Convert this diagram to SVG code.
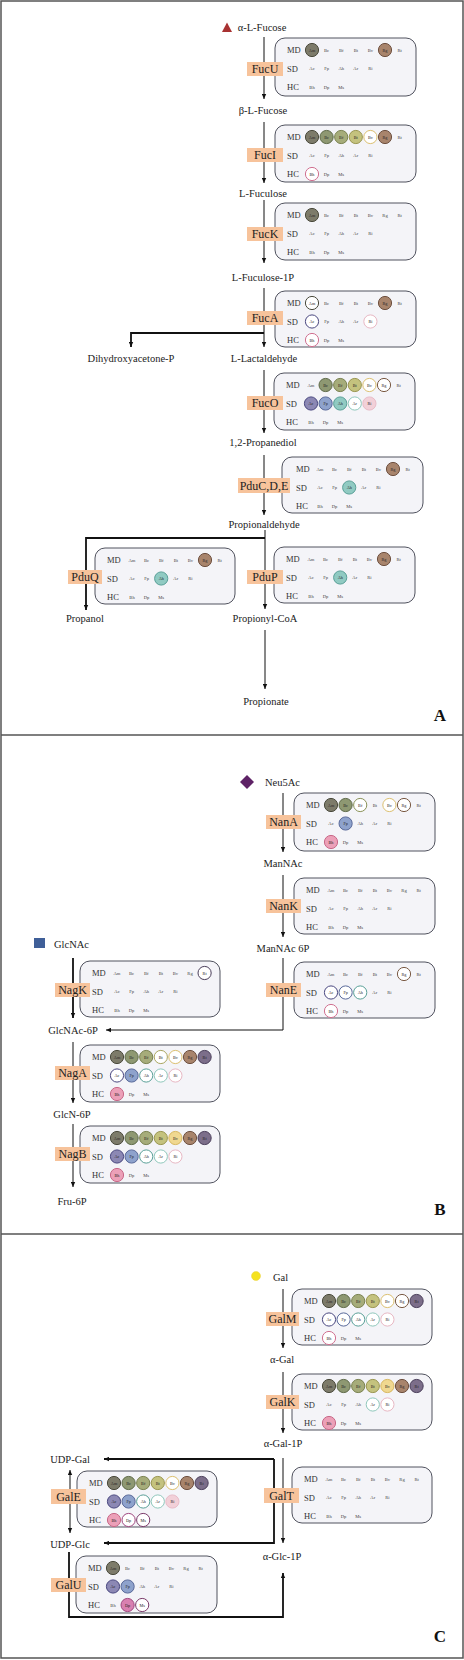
<svg xmlns="http://www.w3.org/2000/svg" width="464" height="1660" viewBox="0 0 464 1660">
<style>
.bg{fill:#fff}
.frame{fill:none;stroke:#555;stroke-width:1.5}
.box{fill:#f4f4f8;stroke:#50525e;stroke-width:1}
.lab{fill:#f7c39b}
.lt{font-family:"Liberation Serif",serif;font-size:12px;fill:#222;text-anchor:middle;dominant-baseline:central}
.met{font-family:"Liberation Serif",serif;font-size:10.5px;fill:#222;text-anchor:middle;dominant-baseline:central}
.mets{font-family:"Liberation Serif",serif;font-size:10.5px;fill:#222;dominant-baseline:central}
.rl{font-family:"Liberation Serif",serif;font-size:8.5px;fill:#333;dominant-baseline:central}
.sp{font-family:"Liberation Serif",serif;font-size:4.6px;fill:#444;text-anchor:middle;dominant-baseline:central}
.ci{font-family:"Liberation Serif",serif;font-size:4.2px;fill:#222;text-anchor:middle;dominant-baseline:central}
.pl{font-family:"Liberation Serif",serif;font-size:17px;font-weight:bold;fill:#111;text-anchor:middle;dominant-baseline:central}
.ln{fill:none;stroke:#111;stroke-width:1}
.tk{stroke-width:1.8}
.m0{fill:#7d7b6a;stroke:#4a4a3c}.m1{fill:#8e9872;stroke:#5e6a48}.m2{fill:#a6ac7a;stroke:#7a8250}.m3{fill:#c4c27e;stroke:#9a9650}.m4{fill:#f0d890;stroke:#d8b860}.m5{fill:#a8846c;stroke:#6e5040}.m6{fill:#7c6e8a;stroke:#4a3e5a}
.om0{fill:#fff;stroke:#4a4a3c}.om1{fill:#fff;stroke:#6e7a50}.om2{fill:#fff;stroke:#8a9258}.om3{fill:#fff;stroke:#aaa660}.om4{fill:#fff;stroke:#dcc070}.om5{fill:#fff;stroke:#7a5a44}.om6{fill:#fff;stroke:#4a3e5a}
.s0{fill:#8c88b4;stroke:#4a4880}.s1{fill:#8ea2cc;stroke:#5a6a9a}.s2{fill:#90cac2;stroke:#5aa098}.s3{fill:#b0dcd4;stroke:#80c0b4}.s4{fill:#f2d0d8;stroke:#e8bcc8}
.os0{fill:#fff;stroke:#4a4880}.os1{fill:#fff;stroke:#5a6a9a}.os2{fill:#fff;stroke:#5aa098}.os3{fill:#fff;stroke:#90c8bc}.os4{fill:#fff;stroke:#e8b8c4}
.h0{fill:#eca0b8;stroke:#c86888}.h1{fill:#d880b0;stroke:#a04880}.h2{fill:#a86898;stroke:#7a3a6a}
.oh0{fill:#fff;stroke:#d07090}.oh1{fill:#fff;stroke:#a04880}.oh2{fill:#fff;stroke:#7a3a6a}
</style>
<defs>
<marker id="ah" viewBox="0 0 8 8" refX="8" refY="4" markerWidth="5" markerHeight="5" markerUnits="userSpaceOnUse" orient="auto-start-reverse"><path d="M0,0.5 L8,4 L0,7.5 z" fill="#111"/></marker>
</defs>
<rect class="bg" x="0" y="0" width="464" height="1660"/>
<g id="frame">
<rect class="frame" x="1" y="1" width="462" height="1657"/>
<line class="frame" x1="1" y1="735" x2="463" y2="735"/>
<line class="frame" x1="1" y1="1234" x2="463" y2="1234"/>
</g>

<g id="connectors">
<path class="ln" d="M264,37 V99" marker-end="url(#ah)"/>
<path class="ln" d="M264,122 V183" marker-end="url(#ah)"/>
<path class="ln" d="M264,200 V263" marker-end="url(#ah)"/>
<path class="ln" d="M264,288 V347" marker-end="url(#ah)"/>
<path class="ln tk" d="M264,333 H131 V347" marker-end="url(#ah)"/>
<path class="ln" d="M264,370 V433" marker-end="url(#ah)"/>
<path class="ln" d="M264,455 V515" marker-end="url(#ah)"/>
<path class="ln" d="M265,530 V609" marker-end="url(#ah)"/>
<path class="ln tk" d="M265,538 H86 V610" marker-end="url(#ah)"/>
<path class="ln" d="M265,630 V689" marker-end="url(#ah)"/>
<path class="ln" d="M283,793 V852" marker-end="url(#ah)"/>
<path class="ln" d="M283,875 V937" marker-end="url(#ah)"/>
<path class="ln" d="M283,958 V1030 H106" marker-end="url(#ah)"/>
<path class="ln tk" d="M73,958 V1018" marker-end="url(#ah)"/>
<path class="ln" d="M73,1042 V1103" marker-end="url(#ah)"/>
<path class="ln" d="M73,1124 V1187" marker-end="url(#ah)"/>
<path class="ln" d="M283,1289 V1348" marker-end="url(#ah)"/>
<path class="ln" d="M283,1372 V1433" marker-end="url(#ah)"/>
<path class="ln" d="M283,1458 V1543" marker-end="url(#ah)"/>
<path class="ln tk" d="M274,1459 H104" marker-end="url(#ah)"/>
<path class="ln tk" d="M274,1459 V1543 H104" marker-end="url(#ah)"/>
<path class="ln" d="M70,1470 V1533" marker-start="url(#ah)" marker-end="url(#ah)"/>
<path class="ln tk" d="M69,1552 V1617 H283 V1573" marker-end="url(#ah)"/>
</g>

<g id="metabolites">
<polygon points="222,32 232,32 227,22.5" fill="#a83232"/>
<text class="met" x="262" y="27">α-L-Fucose</text>
<text class="met" x="263" y="110">β-L-Fucose</text>
<text class="met" x="263" y="193">L-Fuculose</text>
<text class="met" x="263" y="277">L-Fuculose-1P</text>
<text class="met" x="131" y="358">Dihydroxyacetone-P</text>
<text class="met" x="264" y="358">L-Lactaldehyde</text>
<text class="met" x="263" y="442">1,2-Propanediol</text>
<text class="met" x="264" y="524">Propionaldehyde</text>
<text class="met" x="85" y="618">Propanol</text>
<text class="met" x="265" y="618">Propionyl-CoA</text>
<text class="met" x="266" y="701">Propionate</text>
<polygon points="247,775 254,782 247,789 240,782" fill="#5e2266"/>
<text class="mets" x="265" y="782">Neu5Ac</text>
<text class="met" x="283" y="863">ManNAc</text>
<text class="met" x="283" y="948">ManNAc 6P</text>
<rect x="34" y="938" width="11" height="10" fill="#3f5f98"/>
<text class="mets" x="54" y="944">GlcNAc</text>
<text class="met" x="73" y="1030">GlcNAc-6P</text>
<text class="met" x="72" y="1114">GlcN-6P</text>
<text class="met" x="72" y="1201">Fru-6P</text>
<circle cx="256" cy="1276" r="4.5" fill="#f5e21e" stroke="#e8d040" stroke-width="0.5"/>
<text class="mets" x="273" y="1277">Gal</text>
<text class="met" x="282" y="1359">α-Gal</text>
<text class="met" x="283" y="1443">α-Gal-1P</text>
<text class="met" x="70" y="1459">UDP-Gal</text>
<text class="met" x="70" y="1544">UDP-Glc</text>
<text class="met" x="282" y="1556">α-Glc-1P</text>
<text class="pl" x="440" y="715">A</text>
<text class="pl" x="440" y="1209">B</text>
<text class="pl" x="440" y="1636">C</text>
</g>

<g id="FucU">
<g transform="translate(275,38)">
<rect class="box" width="141" height="58" rx="10"/>
<text class="rl" x="12" y="12">MD</text><text class="rl" x="12" y="30.5">SD</text><text class="rl" x="12" y="49">HC</text>
<circle class="m0" cx="37" cy="12" r="6.6"/><text class="ci" x="37" y="12">Am</text>
<text class="sp" x="51.6" y="12">Bc</text><text class="sp" x="66.2" y="12">Bf</text><text class="sp" x="80.8" y="12">Bt</text><text class="sp" x="95.4" y="12">Bv</text>
<circle class="m5" cx="110" cy="12" r="6.6"/><text class="ci" x="110" y="12">Rg</text>
<text class="sp" x="124.6" y="12">Rt</text>
<text class="sp" x="37" y="30.5">Ac</text><text class="sp" x="51.6" y="30.5">Fp</text><text class="sp" x="66.2" y="30.5">Ah</text><text class="sp" x="80.8" y="30.5">Ar</text><text class="sp" x="95.4" y="30.5">Ri</text>
<text class="sp" x="37" y="49">Bh</text><text class="sp" x="51.6" y="49">Dp</text><text class="sp" x="66.2" y="49">Ms</text>
</g>
<rect class="lab" x="247" y="62" width="36" height="14"/><text class="lt" x="265" y="69">FucU</text>
</g>

<g id="FucI">
<g transform="translate(275,125)">
<rect class="box" width="141" height="57" rx="10"/>
<text class="rl" x="12" y="12">MD</text><text class="rl" x="12" y="30.5">SD</text><text class="rl" x="12" y="49">HC</text>
<circle class="m0" cx="37" cy="12" r="6.6"/><text class="ci" x="37" y="12">Am</text>
<circle class="m1" cx="51.6" cy="12" r="6.6"/><text class="ci" x="51.6" y="12">Bc</text>
<circle class="m2" cx="66.2" cy="12" r="6.6"/><text class="ci" x="66.2" y="12">Bf</text>
<circle class="m3" cx="80.8" cy="12" r="6.6"/><text class="ci" x="80.8" y="12">Bt</text>
<circle class="om4" cx="95.4" cy="12" r="6.6"/><text class="ci" x="95.4" y="12">Bv</text>
<circle class="m5" cx="110" cy="12" r="6.6"/><text class="ci" x="110" y="12">Rg</text>
<text class="sp" x="124.6" y="12">Rt</text>
<text class="sp" x="37" y="30.5">Ac</text><text class="sp" x="51.6" y="30.5">Fp</text><text class="sp" x="66.2" y="30.5">Ah</text><text class="sp" x="80.8" y="30.5">Ar</text><text class="sp" x="95.4" y="30.5">Ri</text>
<circle class="oh0" cx="37" cy="49" r="6.6"/><text class="ci" x="37" y="49">Bh</text>
<text class="sp" x="51.6" y="49">Dp</text><text class="sp" x="66.2" y="49">Ms</text>
</g>
<rect class="lab" x="247" y="148" width="36" height="14"/><text class="lt" x="265" y="155">FucI</text>
</g>

<g id="FucK">
<g transform="translate(275,203)">
<rect class="box" width="141" height="57" rx="10"/>
<text class="rl" x="12" y="12">MD</text><text class="rl" x="12" y="30.5">SD</text><text class="rl" x="12" y="49">HC</text>
<circle class="m0" cx="37" cy="12" r="6.6"/><text class="ci" x="37" y="12">Am</text>
<text class="sp" x="51.6" y="12">Bc</text><text class="sp" x="66.2" y="12">Bf</text><text class="sp" x="80.8" y="12">Bt</text><text class="sp" x="95.4" y="12">Bv</text><text class="sp" x="110" y="12">Rg</text><text class="sp" x="124.6" y="12">Rt</text>
<text class="sp" x="37" y="30.5">Ac</text><text class="sp" x="51.6" y="30.5">Fp</text><text class="sp" x="66.2" y="30.5">Ah</text><text class="sp" x="80.8" y="30.5">Ar</text><text class="sp" x="95.4" y="30.5">Ri</text>
<text class="sp" x="37" y="49">Bh</text><text class="sp" x="51.6" y="49">Dp</text><text class="sp" x="66.2" y="49">Ms</text>
</g>
<rect class="lab" x="247" y="227" width="36" height="14"/><text class="lt" x="265" y="234">FucK</text>
</g>

<g id="FucA">
<g transform="translate(275,291)">
<rect class="box" width="141" height="56" rx="10"/>
<text class="rl" x="12" y="12">MD</text><text class="rl" x="12" y="30.5">SD</text><text class="rl" x="12" y="49">HC</text>
<circle class="om0" cx="37" cy="12" r="6.6"/><text class="ci" x="37" y="12">Am</text>
<text class="sp" x="51.6" y="12">Bc</text><text class="sp" x="66.2" y="12">Bf</text><text class="sp" x="80.8" y="12">Bt</text><text class="sp" x="95.4" y="12">Bv</text>
<circle class="m5" cx="110" cy="12" r="6.6"/><text class="ci" x="110" y="12">Rg</text>
<text class="sp" x="124.6" y="12">Rt</text>
<circle class="os0" cx="37" cy="30.5" r="6.6"/><text class="ci" x="37" y="30.5">Ac</text>
<text class="sp" x="51.6" y="30.5">Fp</text><text class="sp" x="66.2" y="30.5">Ah</text><text class="sp" x="80.8" y="30.5">Ar</text>
<circle class="os4" cx="95.4" cy="30.5" r="6.6"/><text class="ci" x="95.4" y="30.5">Ri</text>
<circle class="oh0" cx="37" cy="49" r="6.6"/><text class="ci" x="37" y="49">Bh</text>
<text class="sp" x="51.6" y="49">Dp</text><text class="sp" x="66.2" y="49">Ms</text>
</g>
<rect class="lab" x="247" y="311" width="36" height="14"/><text class="lt" x="265" y="318">FucA</text>
</g>

<g id="FucO">
<g transform="translate(274,373)">
<rect class="box" width="141" height="57" rx="10"/>
<text class="rl" x="12" y="12">MD</text><text class="rl" x="12" y="30.5">SD</text><text class="rl" x="12" y="49">HC</text>
<text class="sp" x="37" y="12">Am</text>
<circle class="m1" cx="51.6" cy="12" r="6.6"/><text class="ci" x="51.6" y="12">Bc</text>
<circle class="m2" cx="66.2" cy="12" r="6.6"/><text class="ci" x="66.2" y="12">Bf</text>
<circle class="m3" cx="80.8" cy="12" r="6.6"/><text class="ci" x="80.8" y="12">Bt</text>
<circle class="om4" cx="95.4" cy="12" r="6.6"/><text class="ci" x="95.4" y="12">Bv</text>
<circle class="om5" cx="110" cy="12" r="6.6"/><text class="ci" x="110" y="12">Rg</text>
<text class="sp" x="124.6" y="12">Rt</text>
<circle class="s0" cx="37" cy="30.5" r="6.6"/><text class="ci" x="37" y="30.5">Ac</text>
<circle class="s1" cx="51.6" cy="30.5" r="6.6"/><text class="ci" x="51.6" y="30.5">Fp</text>
<circle class="s2" cx="66.2" cy="30.5" r="6.6"/><text class="ci" x="66.2" y="30.5">Ah</text>
<circle class="os3" cx="80.8" cy="30.5" r="6.6"/><text class="ci" x="80.8" y="30.5">Ar</text>
<circle class="s4" cx="95.4" cy="30.5" r="6.6"/><text class="ci" x="95.4" y="30.5">Ri</text>
<text class="sp" x="37" y="49">Bh</text><text class="sp" x="51.6" y="49">Dp</text><text class="sp" x="66.2" y="49">Ms</text>
</g>
<rect class="lab" x="247" y="396" width="36" height="14"/><text class="lt" x="265" y="403">FucO</text>
</g>

<g id="PduCDE">
<g transform="translate(282,457)">
<rect class="box" width="141" height="56" rx="10"/>
<text class="rl" x="14" y="12">MD</text><text class="rl" x="14" y="30.5">SD</text><text class="rl" x="14" y="49">HC</text>
<text class="sp" x="38" y="12">Am</text><text class="sp" x="52.6" y="12">Bc</text><text class="sp" x="67.2" y="12">Bf</text><text class="sp" x="81.8" y="12">Bt</text><text class="sp" x="96.4" y="12">Bv</text>
<circle class="m5" cx="111" cy="12" r="6.6"/><text class="ci" x="111" y="12">Rg</text>
<text class="sp" x="125.6" y="12">Rt</text>
<text class="sp" x="38" y="30.5">Ac</text><text class="sp" x="52.6" y="30.5">Fp</text>
<circle class="s2" cx="67.2" cy="30.5" r="6.6"/><text class="ci" x="67.2" y="30.5">Ah</text>
<text class="sp" x="81.8" y="30.5">Ar</text><text class="sp" x="96.4" y="30.5">Ri</text>
<text class="sp" x="38" y="49">Bh</text><text class="sp" x="52.6" y="49">Dp</text><text class="sp" x="67.2" y="49">Ms</text>
</g>
<rect class="lab" x="238" y="478" width="52" height="15"/><text class="lt" x="264" y="485.5">PduC,D,E</text>
</g>

<g id="PduQ">
<g transform="translate(95,548)">
<rect class="box" width="140" height="56" rx="10"/>
<text class="rl" x="12" y="12">MD</text><text class="rl" x="12" y="30.5">SD</text><text class="rl" x="12" y="49">HC</text>
<text class="sp" x="37" y="12">Am</text><text class="sp" x="51.6" y="12">Bc</text><text class="sp" x="66.2" y="12">Bf</text><text class="sp" x="80.8" y="12">Bt</text><text class="sp" x="95.4" y="12">Bv</text>
<circle class="m5" cx="110" cy="12" r="6.6"/><text class="ci" x="110" y="12">Rg</text>
<text class="sp" x="124.6" y="12">Rt</text>
<text class="sp" x="37" y="30.5">Ac</text><text class="sp" x="51.6" y="30.5">Fp</text>
<circle class="s2" cx="66.2" cy="30.5" r="6.6"/><text class="ci" x="66.2" y="30.5">Ah</text>
<text class="sp" x="80.8" y="30.5">Ar</text><text class="sp" x="95.4" y="30.5">Ri</text>
<text class="sp" x="37" y="49">Bh</text><text class="sp" x="51.6" y="49">Dp</text><text class="sp" x="66.2" y="49">Ms</text>
</g>
<rect class="lab" x="68" y="570" width="34" height="14"/><text class="lt" x="85" y="577">PduQ</text>
</g>

<g id="PduP">
<g transform="translate(274,547)">
<rect class="box" width="141" height="56" rx="10"/>
<text class="rl" x="12" y="12">MD</text><text class="rl" x="12" y="30.5">SD</text><text class="rl" x="12" y="49">HC</text>
<text class="sp" x="37" y="12">Am</text><text class="sp" x="51.6" y="12">Bc</text><text class="sp" x="66.2" y="12">Bf</text><text class="sp" x="80.8" y="12">Bt</text><text class="sp" x="95.4" y="12">Bv</text>
<circle class="m5" cx="110" cy="12" r="6.6"/><text class="ci" x="110" y="12">Rg</text>
<text class="sp" x="124.6" y="12">Rt</text>
<text class="sp" x="37" y="30.5">Ac</text><text class="sp" x="51.6" y="30.5">Fp</text>
<circle class="s2" cx="66.2" cy="30.5" r="6.6"/><text class="ci" x="66.2" y="30.5">Ah</text>
<text class="sp" x="80.8" y="30.5">Ar</text><text class="sp" x="95.4" y="30.5">Ri</text>
<text class="sp" x="37" y="49">Bh</text><text class="sp" x="51.6" y="49">Dp</text><text class="sp" x="66.2" y="49">Ms</text>
</g>
<rect class="lab" x="247" y="570" width="36" height="14"/><text class="lt" x="265" y="577">PduP</text>
</g>

<g id="NanA">
<g transform="translate(294,793)">
<rect class="box" width="141" height="58" rx="10"/>
<text class="rl" x="12" y="12">MD</text><text class="rl" x="12" y="30.5">SD</text><text class="rl" x="12" y="49">HC</text>
<circle class="m0" cx="37" cy="12" r="6.6"/><text class="ci" x="37" y="12">Am</text>
<circle class="m1" cx="51.6" cy="12" r="6.6"/><text class="ci" x="51.6" y="12">Bc</text>
<circle class="om2" cx="66.2" cy="12" r="6.6"/><text class="ci" x="66.2" y="12">Bf</text>
<text class="sp" x="80.8" y="12">Bt</text>
<circle class="om4" cx="95.4" cy="12" r="6.6"/><text class="ci" x="95.4" y="12">Bv</text>
<circle class="om5" cx="110" cy="12" r="6.6"/><text class="ci" x="110" y="12">Rg</text>
<text class="sp" x="124.6" y="12">Rt</text>
<text class="sp" x="37" y="30.5">Ac</text>
<circle class="s1" cx="51.6" cy="30.5" r="6.6"/><text class="ci" x="51.6" y="30.5">Fp</text>
<text class="sp" x="66.2" y="30.5">Ah</text><text class="sp" x="80.8" y="30.5">Ar</text><text class="sp" x="95.4" y="30.5">Ri</text>
<circle class="h0" cx="37" cy="49" r="6.6"/><text class="ci" x="37" y="49">Bh</text>
<text class="sp" x="51.6" y="49">Dp</text><text class="sp" x="66.2" y="49">Ms</text>
</g>
<rect class="lab" x="266" y="815" width="35" height="14"/><text class="lt" x="283.5" y="822">NanA</text>
</g>

<g id="NanK">
<g transform="translate(294,878)">
<rect class="box" width="141" height="56" rx="10"/>
<text class="rl" x="12" y="12">MD</text><text class="rl" x="12" y="30.5">SD</text><text class="rl" x="12" y="49">HC</text>
<text class="sp" x="37" y="12">Am</text><text class="sp" x="51.6" y="12">Bc</text><text class="sp" x="66.2" y="12">Bf</text><text class="sp" x="80.8" y="12">Bt</text><text class="sp" x="95.4" y="12">Bv</text><text class="sp" x="110" y="12">Rg</text><text class="sp" x="124.6" y="12">Rt</text>
<text class="sp" x="37" y="30.5">Ac</text><text class="sp" x="51.6" y="30.5">Fp</text><text class="sp" x="66.2" y="30.5">Ah</text><text class="sp" x="80.8" y="30.5">Ar</text><text class="sp" x="95.4" y="30.5">Ri</text>
<text class="sp" x="37" y="49">Bh</text><text class="sp" x="51.6" y="49">Dp</text><text class="sp" x="66.2" y="49">Ms</text>
</g>
<rect class="lab" x="266" y="899" width="35" height="14"/><text class="lt" x="283.5" y="906">NanK</text>
</g>

<g id="NanE">
<g transform="translate(294,962)">
<rect class="box" width="141" height="56" rx="10"/>
<text class="rl" x="12" y="12">MD</text><text class="rl" x="12" y="30.5">SD</text><text class="rl" x="12" y="49">HC</text>
<text class="sp" x="37" y="12">Am</text><text class="sp" x="51.6" y="12">Bc</text><text class="sp" x="66.2" y="12">Bf</text><text class="sp" x="80.8" y="12">Bt</text><text class="sp" x="95.4" y="12">Bv</text>
<circle class="om5" cx="110" cy="12" r="6.6"/><text class="ci" x="110" y="12">Rg</text>
<text class="sp" x="124.6" y="12">Rt</text>
<circle class="os0" cx="37" cy="30.5" r="6.6"/><text class="ci" x="37" y="30.5">Ac</text>
<circle class="os1" cx="51.6" cy="30.5" r="6.6"/><text class="ci" x="51.6" y="30.5">Fp</text>
<circle class="os2" cx="66.2" cy="30.5" r="6.6"/><text class="ci" x="66.2" y="30.5">Ah</text>
<text class="sp" x="80.8" y="30.5">Ar</text><text class="sp" x="95.4" y="30.5">Ri</text>
<circle class="oh0" cx="37" cy="49" r="6.6"/><text class="ci" x="37" y="49">Bh</text>
<text class="sp" x="51.6" y="49">Dp</text><text class="sp" x="66.2" y="49">Ms</text>
</g>
<rect class="lab" x="266" y="983" width="35" height="14"/><text class="lt" x="283.5" y="990">NanE</text>
</g>

<g id="NagK">
<g transform="translate(80,961)">
<rect class="box" width="140" height="56" rx="10"/>
<text class="rl" x="12" y="12">MD</text><text class="rl" x="12" y="30.5">SD</text><text class="rl" x="12" y="49">HC</text>
<text class="sp" x="37" y="12">Am</text><text class="sp" x="51.6" y="12">Bc</text><text class="sp" x="66.2" y="12">Bf</text><text class="sp" x="80.8" y="12">Bt</text><text class="sp" x="95.4" y="12">Bv</text><text class="sp" x="110" y="12">Rg</text>
<circle class="om6" cx="124.6" cy="12" r="6.6"/><text class="ci" x="124.6" y="12">Rt</text>
<text class="sp" x="37" y="30.5">Ac</text><text class="sp" x="51.6" y="30.5">Fp</text><text class="sp" x="66.2" y="30.5">Ah</text><text class="sp" x="80.8" y="30.5">Ar</text><text class="sp" x="95.4" y="30.5">Ri</text>
<text class="sp" x="37" y="49">Bh</text><text class="sp" x="51.6" y="49">Dp</text><text class="sp" x="66.2" y="49">Ms</text>
</g>
<rect class="lab" x="55" y="983" width="35" height="14"/><text class="lt" x="72.5" y="990">NagK</text>
</g>

<g id="NagA">
<g transform="translate(80,1045)">
<rect class="box" width="140" height="57" rx="10"/>
<text class="rl" x="12" y="12">MD</text><text class="rl" x="12" y="30.5">SD</text><text class="rl" x="12" y="49">HC</text>
<circle class="m0" cx="37" cy="12" r="6.6"/><text class="ci" x="37" y="12">Am</text>
<circle class="m1" cx="51.6" cy="12" r="6.6"/><text class="ci" x="51.6" y="12">Bc</text>
<circle class="m2" cx="66.2" cy="12" r="6.6"/><text class="ci" x="66.2" y="12">Bf</text>
<circle class="om3" cx="80.8" cy="12" r="6.6"/><text class="ci" x="80.8" y="12">Bt</text>
<circle class="om4" cx="95.4" cy="12" r="6.6"/><text class="ci" x="95.4" y="12">Bv</text>
<circle class="m5" cx="110" cy="12" r="6.6"/><text class="ci" x="110" y="12">Rg</text>
<circle class="m6" cx="124.6" cy="12" r="6.6"/><text class="ci" x="124.6" y="12">Rt</text>
<circle class="os0" cx="37" cy="30.5" r="6.6"/><text class="ci" x="37" y="30.5">Ac</text>
<circle class="s1" cx="51.6" cy="30.5" r="6.6"/><text class="ci" x="51.6" y="30.5">Fp</text>
<circle class="os2" cx="66.2" cy="30.5" r="6.6"/><text class="ci" x="66.2" y="30.5">Ah</text>
<circle class="os3" cx="80.8" cy="30.5" r="6.6"/><text class="ci" x="80.8" y="30.5">Ar</text>
<circle class="os4" cx="95.4" cy="30.5" r="6.6"/><text class="ci" x="95.4" y="30.5">Ri</text>
<circle class="h0" cx="37" cy="49" r="6.6"/><text class="ci" x="37" y="49">Bh</text>
<text class="sp" x="51.6" y="49">Dp</text><text class="sp" x="66.2" y="49">Ms</text>
</g>
<rect class="lab" x="55" y="1066" width="35" height="14"/><text class="lt" x="72.5" y="1073">NagA</text>
</g>

<g id="NagB">
<g transform="translate(80,1126)">
<rect class="box" width="140" height="57" rx="10"/>
<text class="rl" x="12" y="12">MD</text><text class="rl" x="12" y="30.5">SD</text><text class="rl" x="12" y="49">HC</text>
<circle class="m0" cx="37" cy="12" r="6.6"/><text class="ci" x="37" y="12">Am</text>
<circle class="m1" cx="51.6" cy="12" r="6.6"/><text class="ci" x="51.6" y="12">Bc</text>
<circle class="m2" cx="66.2" cy="12" r="6.6"/><text class="ci" x="66.2" y="12">Bf</text>
<circle class="m3" cx="80.8" cy="12" r="6.6"/><text class="ci" x="80.8" y="12">Bt</text>
<circle class="m4" cx="95.4" cy="12" r="6.6"/><text class="ci" x="95.4" y="12">Bv</text>
<circle class="m5" cx="110" cy="12" r="6.6"/><text class="ci" x="110" y="12">Rg</text>
<circle class="m6" cx="124.6" cy="12" r="6.6"/><text class="ci" x="124.6" y="12">Rt</text>
<circle class="s0" cx="37" cy="30.5" r="6.6"/><text class="ci" x="37" y="30.5">Ac</text>
<circle class="s1" cx="51.6" cy="30.5" r="6.6"/><text class="ci" x="51.6" y="30.5">Fp</text>
<circle class="os2" cx="66.2" cy="30.5" r="6.6"/><text class="ci" x="66.2" y="30.5">Ah</text>
<circle class="os3" cx="80.8" cy="30.5" r="6.6"/><text class="ci" x="80.8" y="30.5">Ar</text>
<circle class="os4" cx="95.4" cy="30.5" r="6.6"/><text class="ci" x="95.4" y="30.5">Ri</text>
<circle class="h0" cx="37" cy="49" r="6.6"/><text class="ci" x="37" y="49">Bh</text>
<text class="sp" x="51.6" y="49">Dp</text><text class="sp" x="66.2" y="49">Ms</text>
</g>
<rect class="lab" x="55" y="1147" width="35" height="14"/><text class="lt" x="72.5" y="1154">NagB</text>
</g>

<g id="GalM">
<g transform="translate(292,1289)">
<rect class="box" width="140" height="56" rx="10"/>
<text class="rl" x="12" y="12">MD</text><text class="rl" x="12" y="30.5">SD</text><text class="rl" x="12" y="49">HC</text>
<circle class="m0" cx="37" cy="12" r="6.6"/><text class="ci" x="37" y="12">Am</text>
<circle class="m1" cx="51.6" cy="12" r="6.6"/><text class="ci" x="51.6" y="12">Bc</text>
<circle class="m2" cx="66.2" cy="12" r="6.6"/><text class="ci" x="66.2" y="12">Bf</text>
<circle class="m3" cx="80.8" cy="12" r="6.6"/><text class="ci" x="80.8" y="12">Bt</text>
<circle class="om4" cx="95.4" cy="12" r="6.6"/><text class="ci" x="95.4" y="12">Bv</text>
<circle class="om5" cx="110" cy="12" r="6.6"/><text class="ci" x="110" y="12">Rg</text>
<circle class="m6" cx="124.6" cy="12" r="6.6"/><text class="ci" x="124.6" y="12">Rt</text>
<circle class="os0" cx="37" cy="30.5" r="6.6"/><text class="ci" x="37" y="30.5">Ac</text>
<circle class="os1" cx="51.6" cy="30.5" r="6.6"/><text class="ci" x="51.6" y="30.5">Fp</text>
<circle class="os2" cx="66.2" cy="30.5" r="6.6"/><text class="ci" x="66.2" y="30.5">Ah</text>
<circle class="os3" cx="80.8" cy="30.5" r="6.6"/><text class="ci" x="80.8" y="30.5">Ar</text>
<circle class="os4" cx="95.4" cy="30.5" r="6.6"/><text class="ci" x="95.4" y="30.5">Ri</text>
<circle class="oh0" cx="37" cy="49" r="6.6"/><text class="ci" x="37" y="49">Bh</text>
<text class="sp" x="51.6" y="49">Dp</text><text class="sp" x="66.2" y="49">Ms</text>
</g>
<rect class="lab" x="266" y="1312" width="33" height="14"/><text class="lt" x="282.5" y="1319">GalM</text>
</g>

<g id="GalK">
<g transform="translate(292,1374)">
<rect class="box" width="140" height="56" rx="10"/>
<text class="rl" x="12" y="12">MD</text><text class="rl" x="12" y="30.5">SD</text><text class="rl" x="12" y="49">HC</text>
<circle class="m0" cx="37" cy="12" r="6.6"/><text class="ci" x="37" y="12">Am</text>
<circle class="m1" cx="51.6" cy="12" r="6.6"/><text class="ci" x="51.6" y="12">Bc</text>
<circle class="m2" cx="66.2" cy="12" r="6.6"/><text class="ci" x="66.2" y="12">Bf</text>
<circle class="m3" cx="80.8" cy="12" r="6.6"/><text class="ci" x="80.8" y="12">Bt</text>
<circle class="m4" cx="95.4" cy="12" r="6.6"/><text class="ci" x="95.4" y="12">Bv</text>
<circle class="m5" cx="110" cy="12" r="6.6"/><text class="ci" x="110" y="12">Rg</text>
<circle class="m6" cx="124.6" cy="12" r="6.6"/><text class="ci" x="124.6" y="12">Rt</text>
<text class="sp" x="37" y="30.5">Ac</text><text class="sp" x="51.6" y="30.5">Fp</text><text class="sp" x="66.2" y="30.5">Ah</text>
<circle class="os3" cx="80.8" cy="30.5" r="6.6"/><text class="ci" x="80.8" y="30.5">Ar</text>
<circle class="os4" cx="95.4" cy="30.5" r="6.6"/><text class="ci" x="95.4" y="30.5">Ri</text>
<circle class="h0" cx="37" cy="49" r="6.6"/><text class="ci" x="37" y="49">Bh</text>
<text class="sp" x="51.6" y="49">Dp</text><text class="sp" x="66.2" y="49">Ms</text>
</g>
<rect class="lab" x="266" y="1395" width="33" height="14"/><text class="lt" x="282.5" y="1402">GalK</text>
</g>

<g id="GalT">
<g transform="translate(292,1467)">
<rect class="box" width="140" height="56" rx="10"/>
<text class="rl" x="12" y="12">MD</text><text class="rl" x="12" y="30.5">SD</text><text class="rl" x="12" y="49">HC</text>
<text class="sp" x="37" y="12">Am</text><text class="sp" x="51.6" y="12">Bc</text><text class="sp" x="66.2" y="12">Bf</text><text class="sp" x="80.8" y="12">Bt</text><text class="sp" x="95.4" y="12">Bv</text><text class="sp" x="110" y="12">Rg</text><text class="sp" x="124.6" y="12">Rt</text>
<text class="sp" x="37" y="30.5">Ac</text><text class="sp" x="51.6" y="30.5">Fp</text><text class="sp" x="66.2" y="30.5">Ah</text><text class="sp" x="80.8" y="30.5">Ar</text><text class="sp" x="95.4" y="30.5">Ri</text>
<text class="sp" x="37" y="49">Bh</text><text class="sp" x="51.6" y="49">Dp</text><text class="sp" x="66.2" y="49">Ms</text>
</g>
<rect class="lab" x="264" y="1488" width="35" height="15"/><text class="lt" x="281.5" y="1495.5">GalT</text>
</g>

<g id="GalE">
<g transform="translate(77,1471)">
<rect class="box" width="140" height="56" rx="10"/>
<text class="rl" x="12" y="12">MD</text><text class="rl" x="12" y="30.5">SD</text><text class="rl" x="12" y="49">HC</text>
<circle class="m0" cx="37" cy="12" r="6.6"/><text class="ci" x="37" y="12">Am</text>
<circle class="m1" cx="51.6" cy="12" r="6.6"/><text class="ci" x="51.6" y="12">Bc</text>
<circle class="m2" cx="66.2" cy="12" r="6.6"/><text class="ci" x="66.2" y="12">Bf</text>
<circle class="m3" cx="80.8" cy="12" r="6.6"/><text class="ci" x="80.8" y="12">Bt</text>
<circle class="om4" cx="95.4" cy="12" r="6.6"/><text class="ci" x="95.4" y="12">Bv</text>
<circle class="m5" cx="110" cy="12" r="6.6"/><text class="ci" x="110" y="12">Rg</text>
<circle class="m6" cx="124.6" cy="12" r="6.6"/><text class="ci" x="124.6" y="12">Rt</text>
<circle class="s0" cx="37" cy="30.5" r="6.6"/><text class="ci" x="37" y="30.5">Ac</text>
<circle class="s1" cx="51.6" cy="30.5" r="6.6"/><text class="ci" x="51.6" y="30.5">Fp</text>
<circle class="os2" cx="66.2" cy="30.5" r="6.6"/><text class="ci" x="66.2" y="30.5">Ah</text>
<circle class="os3" cx="80.8" cy="30.5" r="6.6"/><text class="ci" x="80.8" y="30.5">Ar</text>
<circle class="s4" cx="95.4" cy="30.5" r="6.6"/><text class="ci" x="95.4" y="30.5">Ri</text>
<circle class="h0" cx="37" cy="49" r="6.6"/><text class="ci" x="37" y="49">Bh</text>
<circle class="oh1" cx="51.6" cy="49" r="6.6"/><text class="ci" x="51.6" y="49">Dp</text>
<circle class="oh2" cx="66.2" cy="49" r="6.6"/><text class="ci" x="66.2" y="49">Ms</text>
</g>
<rect class="lab" x="51" y="1489" width="35" height="15"/><text class="lt" x="68.5" y="1496.5">GalE</text>
</g>

<g id="GalU">
<g transform="translate(76,1556)">
<rect class="box" width="141" height="57" rx="10"/>
<text class="rl" x="12" y="12">MD</text><text class="rl" x="12" y="30.5">SD</text><text class="rl" x="12" y="49">HC</text>
<circle class="m0" cx="37" cy="12" r="6.6"/><text class="ci" x="37" y="12">Am</text>
<text class="sp" x="51.6" y="12">Bc</text><text class="sp" x="66.2" y="12">Bf</text><text class="sp" x="80.8" y="12">Bt</text><text class="sp" x="95.4" y="12">Bv</text><text class="sp" x="110" y="12">Rg</text><text class="sp" x="124.6" y="12">Rt</text>
<circle class="s0" cx="37" cy="30.5" r="6.6"/><text class="ci" x="37" y="30.5">Ac</text>
<circle class="s1" cx="51.6" cy="30.5" r="6.6"/><text class="ci" x="51.6" y="30.5">Fp</text>
<text class="sp" x="66.2" y="30.5">Ah</text><text class="sp" x="80.8" y="30.5">Ar</text><text class="sp" x="95.4" y="30.5">Ri</text>
<text class="sp" x="37" y="49">Bh</text>
<circle class="h1" cx="51.6" cy="49" r="6.6"/><text class="ci" x="51.6" y="49">Dp</text>
<circle class="oh2" cx="66.2" cy="49" r="6.6"/><text class="ci" x="66.2" y="49">Ms</text>
</g>
<rect class="lab" x="51" y="1578" width="35" height="14"/><text class="lt" x="68.5" y="1585">GalU</text>
</g>
</svg>
